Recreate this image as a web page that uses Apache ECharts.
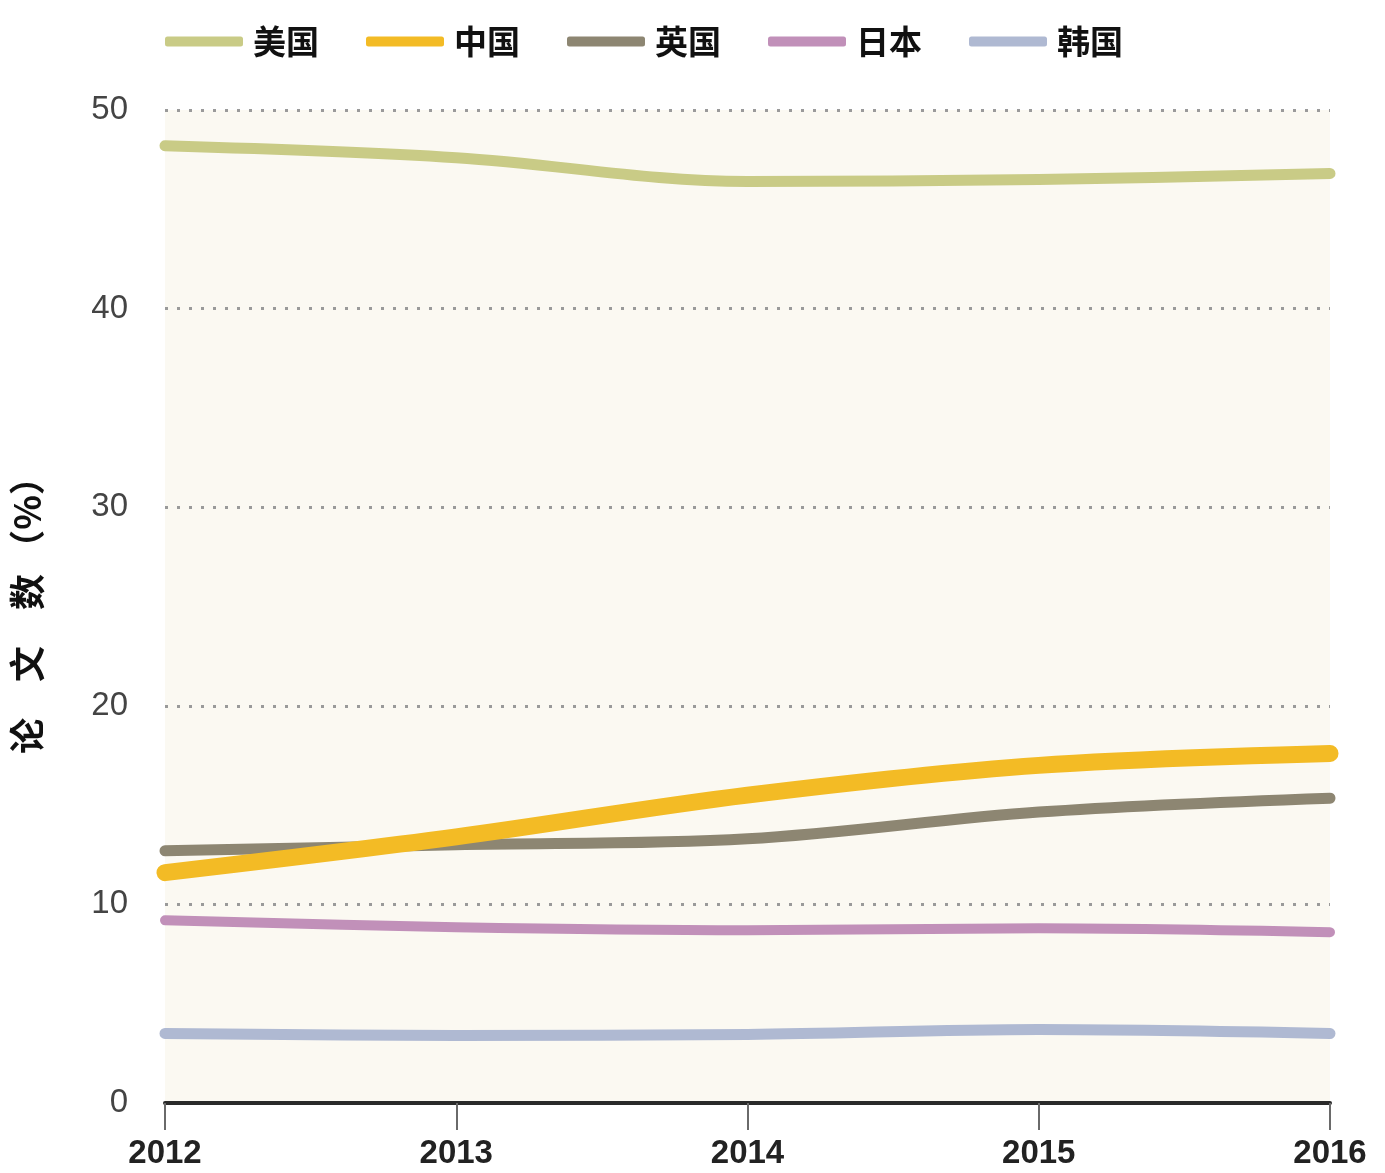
<!DOCTYPE html>
<html>
<head>
<meta charset="utf-8">
<script src="https://cdn.jsdelivr.net/npm/echarts@6/dist/echarts.min.js"></script>
<style>
html,body{margin:0;padding:0;background:#ffffff;}
#main{width:1385px;height:1173px;}
</style>
</head>
<body>
<div id="main"></div>
<script>
const years = ['2012', '2013', '2014', '2015', '2016'];
const usa = [48.2, 47.6, 46.4, 46.5, 46.8];
const china = [11.6, 13.4, 15.5, 17.0, 17.6];
const uk = [12.7, 13.0, 13.3, 14.65, 15.35];
const japan = [9.2, 8.85, 8.7, 8.8, 8.6];
const korea = [3.5, 3.4, 3.45, 3.7, 3.5];
const seriesNames = ['美国', '中国', '英国', '日本', '韩国'];
const yTicks = [0, 10, 20, 30, 40, 50];

const colors = ['#c9cb86', '#f3bb25', '#8d8672', '#c190b9', '#afb9d2'];
const widths = [11, 17, 11, 10, 11];
const datas = [usa, china, uk, japan, korea];

const chart = echarts.init(document.getElementById('main'));
const series = datas.map((d, i) => ({
  name: seriesNames[i],
  type: 'line',
  data: d,
  smooth: 0.35,
  symbol: 'none',
  z: i === 1 ? 5 : 3,
  lineStyle: { color: colors[i], width: widths[i], cap: 'round', join: 'round' },
  itemStyle: { color: colors[i] }
}));

chart.setOption({
  backgroundColor: '#ffffff',
  animation: false,
  legend: {
    top: 20,
    left: 160,
    icon: 'roundRect',
    itemWidth: 78,
    itemHeight: 10,
    itemGap: 47,
    data: seriesNames,
    textStyle: { fontSize: 33, fontWeight: 'bold', color: '#111', fontFamily: 'Noto Sans CJK SC', padding: [0, 0, 0, 5] }
  },
  grid: {
    left: 165, right: 55, top: 110, bottom: 70,
    show: true, backgroundColor: '#fbf9f2', borderWidth: 0
  },
  xAxis: {
    type: 'category',
    data: years,
    boundaryGap: false,
    axisLine: { show: true, lineStyle: { color: '#2a2a2a', width: 4 } },
    axisTick: { show: true, length: 27, lineStyle: { color: '#6a6a6a', width: 2 } },
    axisLabel: { margin: 34, fontSize: 33, fontWeight: 'bold', color: '#222', fontFamily: 'Liberation Sans' },
    splitLine: { show: false }
  },
  yAxis: {
    type: 'value',
    min: yTicks[0], max: yTicks[yTicks.length - 1], interval: 10,
    name: '论　文　数 （%）',
    nameLocation: 'middle',
    nameGap: 120,
    nameRotate: 90,
    nameTextStyle: { fontSize: 36, fontWeight: 'bold', color: '#111', fontFamily: 'Noto Sans CJK SC' },
    axisLine: { show: false },
    axisTick: { show: false },
    axisLabel: { margin: 37, fontSize: 33, color: '#444', fontFamily: 'Liberation Sans' },
    splitLine: { show: true, lineStyle: { color: '#9a9a9a', width: 3, type: [3, 9] } }
  },
  series: series
});
</script>
</body>
</html>
